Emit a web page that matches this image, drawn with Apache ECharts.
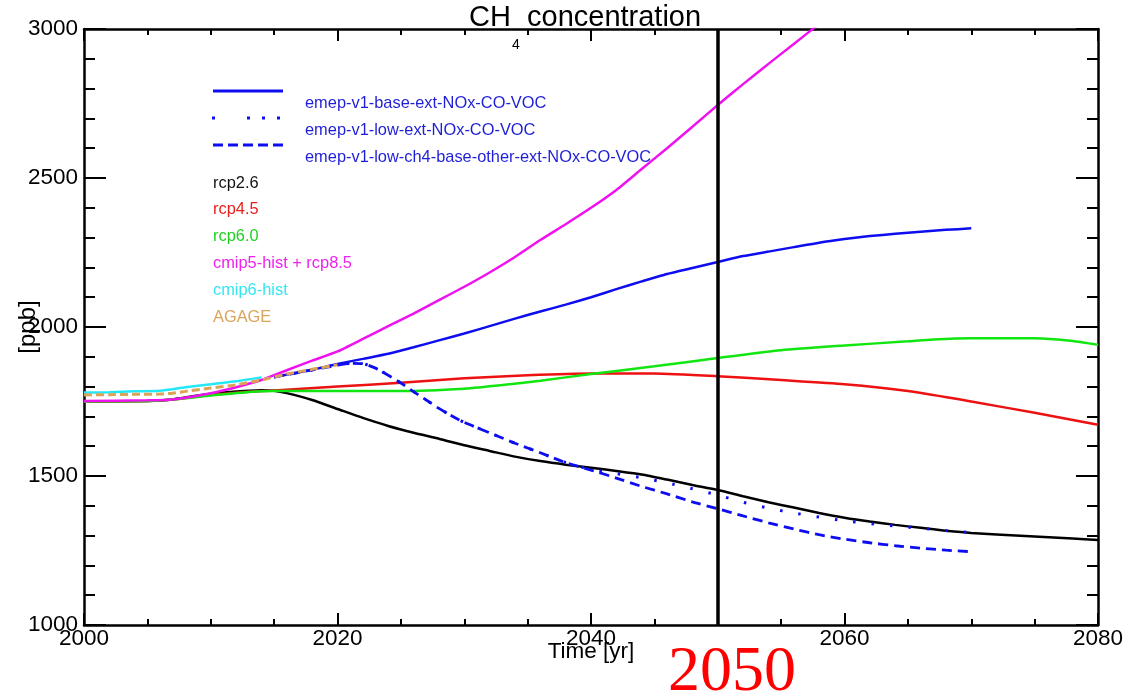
<!DOCTYPE html>
<html>
<head>
<meta charset="utf-8">
<script src="https://cdn.jsdelivr.net/npm/echarts@6/dist/echarts.min.js"></script>
<style>html,body{margin:0;padding:0;background:#fff}#c{width:1132px;height:700px}</style>
</head>
<body>
<div id="c"></div>
<script>
// ---------- data ----------
const xTickLabels = ['2000', '2020', '2040', '2060', '2080'];
const yTickLabels = ['1000', '1500', '2000', '2500', '3000'];

const rcp26Years  = [2000,2005,2007,2009,2011,2013,2014,2015,2016,2018,2020,2022,2024,2026,2028,2030,2032,2034,2036,2038,2040,2042,2044,2046,2048,2050,2052,2054,2056,2058,2060,2062,2064,2066,2068,2070,2072,2075,2078,2080];
const rcp26Values = [1750,1752,1757,1770,1780,1786,1788,1786,1778,1755,1725,1695,1668,1645,1625,1603,1584,1565,1550,1538,1528,1517,1505,1488,1470,1453,1432,1412,1394,1376,1360,1347,1336,1326,1316,1309,1304,1297,1290,1285];

const rcp45Years  = [2000,2005,2007,2010,2013,2015,2020,2025,2030,2035,2040,2045,2050,2055,2060,2065,2070,2075,2080];
const rcp45Values = [1750,1752,1757,1772,1783,1787,1800,1813,1828,1838,1844,1844,1835,1822,1808,1785,1750,1712,1672];

const rcp60Years  = [2000,2005,2007,2010,2013,2015,2020,2025,2030,2033,2036,2040,2045,2050,2055,2060,2065,2067,2070,2075,2078,2080];
const rcp60Values = [1750,1752,1757,1770,1782,1785,1785,1785,1793,1805,1820,1842,1868,1896,1922,1938,1952,1958,1962,1962,1953,1940];

const rcp85Years  = [2000,2005,2007,2010,2012,2014,2016,2018,2020,2022,2024,2026,2028,2030,2032,2034,2036,2038,2040,2042,2044,2046,2048,2050,2052,2054,2056,2058];
const rcp85Values = [1752,1754,1757,1778,1798,1822,1855,1887,1918,1960,2003,2045,2090,2135,2183,2235,2292,2345,2400,2460,2530,2600,2672,2745,2815,2883,2950,3017];

const cmip6Years  = [2000,2002,2004,2006,2008,2010,2012,2014];
const cmip6Values = [1780,1781,1784,1786,1798,1808,1818,1831];

const agageYears  = [2000,2002,2004,2006,2007,2008,2010,2012,2014,2016,2018,2020];
const agageValues = [1772,1773,1774,1775,1778,1784,1795,1806,1822,1842,1858,1873];

const emepBaseYears  = [2015,2017,2019,2020,2022,2024,2026,2028,2030,2032,2034,2036,2038,2040,2042,2044,2046,2048,2050,2052,2054,2056,2058,2060,2062,2064,2066,2068,2070];
const emepBaseValues = [1832,1848,1866,1876,1893,1910,1932,1955,1978,2003,2028,2052,2075,2100,2127,2153,2178,2198,2218,2238,2253,2268,2283,2295,2305,2313,2320,2326,2331];

const emepLowYears  = [2015,2017,2019,2020,2021,2022,2023,2024,2025,2026,2027,2028,2029,2030,2032,2034,2036,2038,2040,2042,2044,2046,2048,2050,2052,2054,2056,2058,2060,2062,2064,2066,2068,2070];
const emepLowValues = [1832,1848,1864,1872,1878,1877,1862,1838,1812,1783,1755,1727,1702,1680,1645,1610,1578,1545,1522,1508,1494,1477,1457,1436,1412,1392,1376,1362,1350,1340,1332,1325,1317,1310];

const emepLowCh4Years  = [2015,2017,2019,2020,2021,2022,2023,2024,2025,2026,2027,2028,2029,2030,2032,2034,2036,2038,2040,2042,2044,2046,2048,2050,2052,2054,2056,2058,2060,2062,2064,2066,2068,2070];
const emepLowCh4Values = [1832,1848,1864,1872,1878,1877,1862,1838,1812,1783,1755,1727,1702,1680,1645,1610,1578,1545,1520,1493,1465,1440,1413,1390,1366,1343,1322,1303,1288,1276,1266,1258,1251,1246];

const markYear = 2050;

// ---------- helpers ----------
const FONT = 'Liberation Sans, Arial, Helvetica, sans-serif';
function pairs(xs, ys) { return xs.map((x, i) => [x, ys[i]]); }
function lineSeries(name, xs, ys, color, type, width, extra) {
  return Object.assign({
    name: name, type: 'line', data: pairs(xs, ys),
    showSymbol: false, symbol: 'none', smooth: 0.2, clip: true,
    xAxisIndex: 0, yAxisIndex: 0,
    lineStyle: { color: color, width: width || 2.5, type: type || 'solid', cap: 'butt' },
    emphasis: { disabled: true }
  }, extra || {});
}

const BLUE = '#0d0df0';
const series = [
  lineSeries('rcp2.6', rcp26Years, rcp26Values, '#000000', 'solid', 2.5, {
    markLine: {
      silent: true, symbol: ['none', 'none'], label: { show: false },
      lineStyle: { color: '#000', width: 3.5, type: 'solid' },
      data: [{ xAxis: markYear }], animation: false
    }
  }),
  lineSeries('rcp4.5', rcp45Years, rcp45Values, '#ee1111'),
  lineSeries('rcp6.0', rcp60Years, rcp60Values, '#11e611'),
  lineSeries('emep-v1-base-ext-NOx-CO-VOC', emepBaseYears, emepBaseValues, BLUE),
  lineSeries('emep-v1-low-ext-NOx-CO-VOC', emepLowYears, emepLowValues, BLUE, [2.5, 16], 3),
  lineSeries('emep-v1-low-ch4-base-other-ext-NOx-CO-VOC', emepLowCh4Years, emepLowCh4Values, BLUE, [10, 6], 2.8),
  lineSeries('cmip5-hist + rcp8.5', rcp85Years, rcp85Values, '#f010f0'),
  lineSeries('cmip6-hist', cmip6Years, cmip6Values, '#22e8f8'),
  lineSeries('AGAGE', agageYears, agageValues, '#dca358', [8, 4], 3)
];

function xAxisCfg(pos, withLabels) {
  return {
    type: 'value', position: pos, min: 2000, max: 2080, interval: 20,
    axisLine: { show: true, onZero: false, lineStyle: { color: '#000', width: 2.5 } },
    axisTick: { show: true, inside: true, length: 12, lineStyle: { color: '#000', width: 2 } },
    minorTick: { show: true, splitNumber: 4, length: 6, lineStyle: { color: '#000', width: 2 } },
    splitLine: { show: false }, minorSplitLine: { show: false },
    axisLabel: withLabels ? {
      show: true, margin: 2, color: '#000', fontSize: 22.5, fontFamily: FONT,
      formatter: v => xTickLabels[Math.round((v - 2000) / 20)] || String(v)
    } : { show: false },
    name: withLabels ? 'Time [yr]' : '',
    nameLocation: 'middle', nameGap: 15, nameMoveOverlap: false,
    nameTextStyle: { color: '#000', fontSize: 22.5, fontFamily: FONT }
  };
}
function yAxisCfg(pos, withLabels) {
  return {
    type: 'value', position: pos, min: 1000, max: 3000, interval: 500,
    axisLine: { show: true, onZero: false, lineStyle: { color: '#000', width: 2.5 } },
    axisTick: { show: true, inside: true, length: 22, lineStyle: { color: '#000', width: 2 } },
    minorTick: { show: true, splitNumber: 5, length: 11, lineStyle: { color: '#000', width: 2 } },
    splitLine: { show: false }, minorSplitLine: { show: false },
    axisLabel: withLabels ? {
      show: true, margin: 6, color: '#000', fontSize: 22.5, fontFamily: FONT,
      formatter: v => yTickLabels[Math.round((v - 1000) / 500)] || String(v)
    } : { show: false },
    name: withLabels ? '[ppb]' : '',
    nameLocation: 'middle', nameGap: 44, nameRotate: 90, nameMoveOverlap: false,
    nameTextStyle: { color: '#000', fontSize: 24, fontFamily: FONT }
  };
}

// legend (drawn as annotation graphics, matching the original layout)
const legendBlue = '#1f1fd8';
const legendItems = [
  { text: 'rcp2.6', color: '#111111' },
  { text: 'rcp4.5', color: '#e8201c' },
  { text: 'rcp6.0', color: '#22d022' },
  { text: 'cmip5-hist + rcp8.5', color: '#ee22ee' },
  { text: 'cmip6-hist', color: '#33e6f2' },
  { text: 'AGAGE', color: '#d9a55a' }
];
const emepLegend = [
  'emep-v1-base-ext-NOx-CO-VOC',
  'emep-v1-low-ext-NOx-CO-VOC',
  'emep-v1-low-ch4-base-other-ext-NOx-CO-VOC'
];

const graphic = [];
graphic.push({ type: 'line', shape: { x1: 213, y1: 91, x2: 283, y2: 91 }, style: { stroke: BLUE, lineWidth: 3 } });
graphic.push({ type: 'line', shape: { x1: 212, y1: 118, x2: 215, y2: 118 }, style: { stroke: BLUE, lineWidth: 3 } });
graphic.push({ type: 'line', shape: { x1: 247, y1: 118, x2: 282, y2: 118 }, style: { stroke: BLUE, lineWidth: 3, lineDash: [3, 12] } });
graphic.push({ type: 'line', shape: { x1: 213, y1: 145, x2: 283, y2: 145 }, style: { stroke: BLUE, lineWidth: 3, lineDash: [10, 5] } });
emepLegend.forEach((t, i) => {
  graphic.push({ type: 'text', style: { text: t, x: 305, y: 103 + i * 27, fill: legendBlue, fontSize: 16.4, fontFamily: FONT, align: 'left', verticalAlign: 'middle' } });
});
legendItems.forEach((it, i) => {
  graphic.push({ type: 'text', style: { text: it.text, x: 213, y: 183 + i * 26.8, fill: it.color, fontSize: 16.4, fontFamily: FONT, align: 'left', verticalAlign: 'middle' } });
});
// subscript of CH4 in the title
graphic.push({ type: 'text', style: { text: '4', x: 516, y: 45, fill: '#000', fontSize: 14, fontFamily: FONT, align: 'center', verticalAlign: 'middle' } });
// big red year annotation
graphic.push({ type: 'text', style: { text: String(markYear), x: 732, y: 673, fill: '#ff0000', fontSize: 64, fontFamily: 'Liberation Serif, Times New Roman, serif', align: 'center', verticalAlign: 'middle' } });

const option = {
  animation: false,
  backgroundColor: '#ffffff',
  title: {
    text: 'CH  concentration', left: 469, top: 3, padding: 0,
    textStyle: { color: '#000', fontSize: 29, fontWeight: 'normal', fontFamily: FONT }
  },
  grid: { left: 84, right: 34, top: 29, bottom: 75, containLabel: false, outerBoundsMode: 'none' },
  xAxis: [xAxisCfg('bottom', true), xAxisCfg('top', false)],
  yAxis: [yAxisCfg('left', true), yAxisCfg('right', false)],
  series: series,
  graphic: graphic
};

const chart = echarts.init(document.getElementById('c'), null, { renderer: 'canvas' });
chart.setOption(option);
</script>
</body>
</html>
